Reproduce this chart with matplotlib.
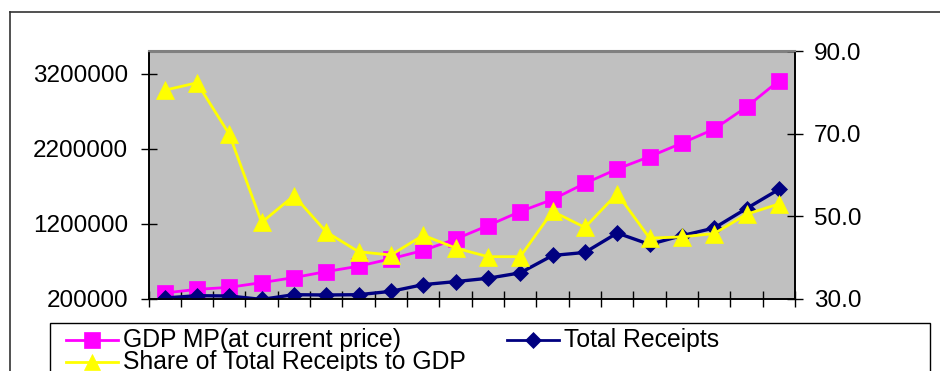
import numpy as np
import matplotlib
matplotlib.use("Agg")
import matplotlib.pyplot as plt
from matplotlib import font_manager
from matplotlib.lines import Line2D
from matplotlib.patches import Rectangle

# Data (20 years, unlabeled x axis)
gdp = [276500, 324800, 351700, 414800, 481900, 562400, 633600, 732900, 844300, 996000,
       1175800, 1363800, 1524800, 1739600, 1931500, 2096600, 2276500, 2464400, 2759700, 3108700]
receipts = [209400, 240300, 236200, 190600, 253700, 249700, 253700, 298000, 387900, 428200,
            472500, 545000, 777200, 817400, 1076500, 924800, 1041600, 1143600, 1404000, 1659000]
share = [80.6, 82.4, 69.9, 48.5, 55.0, 46.2, 41.4, 40.6, 45.4, 42.3,
         40.2, 40.2, 51.2, 47.3, 55.5, 44.7, 45.0, 45.8, 50.5, 53.0]

left_ticks = [200000, 1200000, 2200000, 3200000]
right_ticks = [30.0, 50.0, 70.0, 90.0]

names = {f.name for f in font_manager.fontManager.ttflist}
base = "Liberation Sans" if "Liberation Sans" in names else "DejaVu Sans"
plt.rcParams["font.family"] = [base, "DejaVu Sans"]

W, H = 940, 371
fig = plt.figure(figsize=(W / 100, H / 100), dpi=100)


def fx(px):
    return px / W


def fy(py):
    return 1 - py / H


# outer chart border (runs off the right and bottom edge)
fig.add_artist(Line2D([fx(10), fx(10)], [fy(12), 0], color="#333333", lw=1.2))
fig.add_artist(Line2D([fx(10), 1], [fy(12), fy(12)], color="#333333", lw=1.2))

ax = fig.add_axes([fx(148.5), fy(298.7), fx(795) - fx(148.5), fy(51.5) - fy(298.7)])
ax.set_facecolor("#C0C0C0")
x = np.arange(len(gdp))

ax.plot(x, gdp, color="#FF00FF", lw=2.0, marker="s", ms=11.3, mec="#FF00FF", mew=0.5, zorder=3)
ax.plot(x, receipts, color="#000080", lw=2.4, marker="D", ms=8.0, mec="#000080", mew=0.5, zorder=3)
ax.set_xlim(-0.5, len(gdp) - 0.5)
ax.set_ylim(200000, 3500000)
ax.set_yticks(left_ticks)
ax.set_yticklabels([str(v) for v in left_ticks])
ax.set_xticks(np.arange(-0.5, len(gdp), 1.0))
ax.set_xticklabels([])
ax.tick_params(axis="both", direction="inout", length=11, width=1, labelsize=17.5)
ax.tick_params(axis="y", pad=9)

ax2 = ax.twinx()
ax2.plot(x, share, color="#FFFF00", lw=2.0, marker="^", ms=12.5, mec="#FFFF00", mew=0.5, zorder=3)
ax2.set_ylim(30, 90)
ax2.set_yticks(right_ticks)
ax2.set_yticklabels([f"{v:.1f}" for v in right_ticks])
ax2.tick_params(axis="y", direction="inout", length=11, width=1, labelsize=17.5, pad=8)

for a in (ax, ax2):
    a.spines["top"].set_color("#808080")
    a.spines["top"].set_linewidth(1.5)
    for s in ("left", "right", "bottom"):
        a.spines[s].set_color("black")
        a.spines[s].set_linewidth(1.2)

# legend box, drawn by hand to match the squeezed layout
fig.add_artist(Rectangle((fx(49.5), fy(380)), fx(930) - fx(49.5), fy(323.3) - fy(380),
                         transform=fig.transFigure, fill=False, ec="black", lw=1.0))

entries = [
    ("GDP MP(at current price)", "#FF00FF", "s", 11.0, 66, 340),
    ("Total Receipts", "#000080", "D", 7.8, 507, 339.5),
    ("Share of Total Receipts to GDP", "#FFFF00", "^", 12, 66, 361.7),
]
for label, col, mk, ms, x0, y0 in entries:
    fig.add_artist(Line2D([fx(x0), fx(x0 + 52)], [fy(y0), fy(y0)], color=col, lw=2.0))
    fig.add_artist(Line2D([fx(x0 + 26)], [fy(y0)], color=col, marker=mk, ms=ms, mec=col, mew=0.5))
    fig.text(fx(x0 + 57), fy(y0), label, ha="left", va="center", fontsize=17.8)

fig.savefig("out.png", dpi=100)
